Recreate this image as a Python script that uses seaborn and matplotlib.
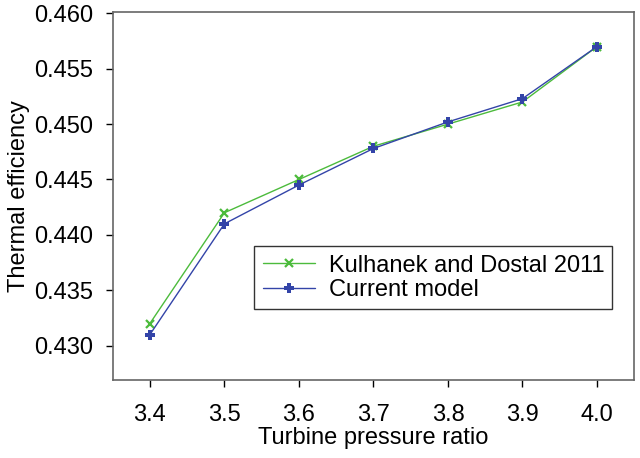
import matplotlib
matplotlib.use("Agg")
import matplotlib.pyplot as plt
import seaborn as sns

pressure_ratio = [3.4, 3.5, 3.6, 3.7, 3.8, 3.9, 4.0]
kulhanek = [0.432, 0.442, 0.445, 0.448, 0.450, 0.452, 0.457]
current = [0.431, 0.441, 0.4445, 0.4478, 0.4502, 0.4523, 0.457]
x_ticks = [3.4, 3.5, 3.6, 3.7, 3.8, 3.9, 4.0]
y_ticks = [0.430, 0.435, 0.440, 0.445, 0.450, 0.455, 0.460]

sns.set_style("white")
plt.rcParams['font.family'] = ['Liberation Sans', 'DejaVu Sans']
plt.rcParams['text.color'] = 'black'
plt.rcParams['axes.labelcolor'] = 'black'

fig = plt.figure(figsize=(6.4, 4.58), dpi=100)
ax = fig.add_axes([0.176, 0.1703, 0.815, 0.803])

sns.lineplot(x=pressure_ratio, y=kulhanek, ax=ax, color='#4cbb3c', linewidth=1,
             marker='x', markersize=6, markeredgewidth=1.6, markeredgecolor='#4cbb3c',
             label='Kulhanek and Dostal 2011')
sns.lineplot(x=pressure_ratio, y=current, ax=ax, color='#3344a8', linewidth=1,
             marker='P', markersize=7, markeredgewidth=0, markerfacecolor='#3344a8',
             label='Current model')

ax.set_xlim(3.35, 4.05)
ax.set_ylim(0.4269, 0.4601)
ax.set_xticks(x_ticks)
ax.set_yticks(y_ticks)
ax.set_xticklabels([f"{v:.1f}" for v in x_ticks])
ax.set_yticklabels([f"{v:.3f}" for v in y_ticks])
ax.tick_params(axis='both', direction='out', length=5, width=1, colors='black',
               labelsize=17, bottom=True, left=True, pad=9)
ax.tick_params(axis='x', pad=12)
for s in ax.spines.values():
    s.set_color('#666666')
    s.set_linewidth(1.2)

ax.set_xlabel('Turbine pressure ratio', fontsize=17, labelpad=1)
ax.set_ylabel('Thermal efficiency', fontsize=17, labelpad=3)

leg = ax.legend(loc='lower left', bbox_to_anchor=(0.2716, 0.1923, 0.685, 0.205),
                mode='expand', fontsize=17, frameon=True, fancybox=False,
                borderpad=0.35, labelspacing=0.1, handlelength=2.2,
                handletextpad=0.6, borderaxespad=0)
leg.get_frame().set_edgecolor('black')
leg.get_frame().set_linewidth(1)

fig.savefig('out.png', dpi=100)
